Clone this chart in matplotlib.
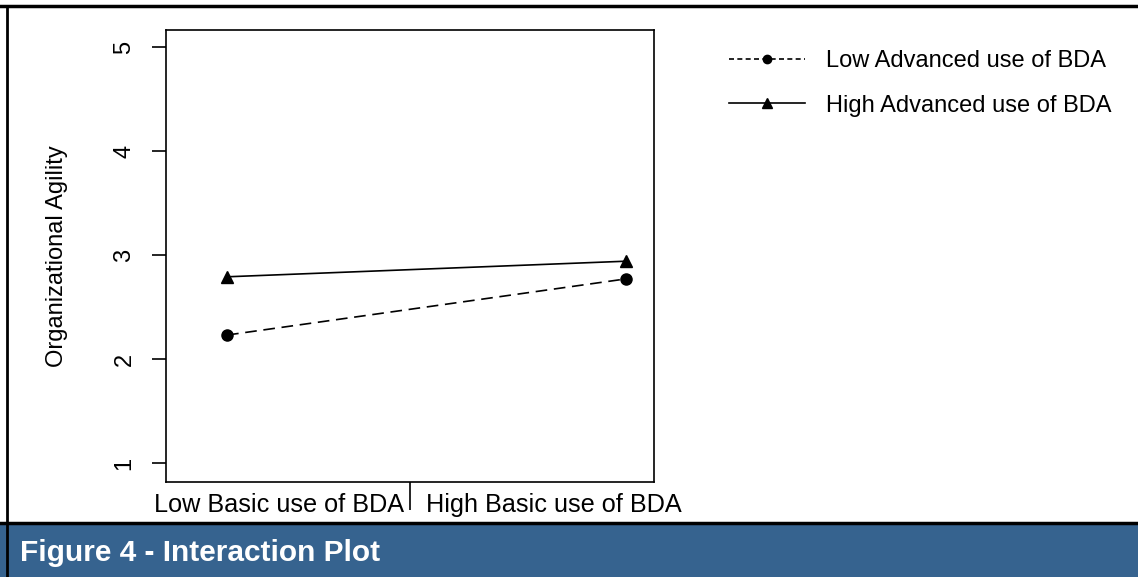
import matplotlib.pyplot as plt
from matplotlib.lines import Line2D

plt.rcParams['font.family'] = ['Liberation Sans', 'DejaVu Sans']

# interaction plot values
basic_levels = ['Low Basic use of BDA', 'High Basic use of BDA']
series_names = ['Low Advanced use of BDA', 'High Advanced use of BDA']
low_adv = [2.23, 2.77]
high_adv = [2.79, 2.94]
y_ticks = [1, 2, 3, 4, 5]

fig = plt.figure(figsize=(11.38, 5.77), dpi=100)

# outer frame and caption band
fig.add_artist(Line2D([0, 1], [1 - 6/577, 1 - 6/577], color='black', lw=2.5, transform=fig.transFigure))
fig.add_artist(Line2D([7/1138, 7/1138], [0, 1 - 6/577], color='black', lw=2, transform=fig.transFigure))
fig.patches.append(plt.Rectangle((0, 0), 1, 53/577, transform=fig.transFigure,
                                 facecolor='#36638f', edgecolor='none', zorder=0))
fig.add_artist(Line2D([0, 1], [54/577, 54/577], color='black', lw=2.5, transform=fig.transFigure))
fig.text(20/1138, 24/577, 'Figure 4 - Interaction Plot', color='white', fontsize=21.5,
         fontweight='bold', va='center', ha='left')

ax = fig.add_axes([166/1138, 1 - 482/577, 488/1138, 452/577])
xpos = [1, 2]
ax.plot(xpos, low_adv, color='black', lw=1.2, ls=(0, (7, 4)), marker='o', markersize=8)
ax.plot(xpos, high_adv, color='black', lw=1.2, ls='-', marker='^', markersize=9)

ax.set_xlim(0.847, 2.07)
ax.set_ylim(0.817, 5.163)
ax.set_yticks(y_ticks)
ax.set_yticklabels([str(v) for v in y_ticks], rotation=90, va='center', fontsize=17)
ax.tick_params(axis='y', length=10, width=1.2, pad=12)

# separator tick between categories, labels placed mid-way
ax.set_xticks([1.459])
ax.set_xticklabels([''])
ax.tick_params(axis='x', which='major', length=20, width=1.2)
ax.set_xticks([1.13, 1.82], minor=True)
ax.set_xticklabels(basic_levels, minor=True, fontsize=18.2)
ax.tick_params(axis='x', which='minor', length=0, pad=8)

ax.set_ylabel('Organizational Agility', fontsize=17, labelpad=33)
for s in ax.spines.values():
    s.set_linewidth(1.2)

handles = [Line2D([], [], color='black', lw=1.2, ls=(0, (3, 2)), marker='o', markersize=6),
           Line2D([], [], color='black', lw=1.2, ls='-', marker='^', markersize=7)]
fig.legend(handles, series_names, loc='upper left', bbox_to_anchor=(708/1138, 1 - 29/577),
           frameon=False, fontsize=17, handlelength=3.2, handletextpad=0.9, labelspacing=0.95)

fig.savefig('out.png', dpi=100)
